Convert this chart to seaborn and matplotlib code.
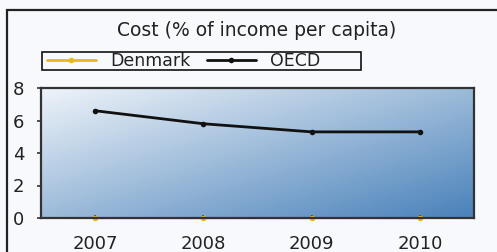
import numpy as np
import pandas as pd
import matplotlib
matplotlib.use("Agg")
import matplotlib.pyplot as plt
import seaborn as sns
from matplotlib.colors import LinearSegmentedColormap
from matplotlib.patches import Rectangle

# data
years = [2007, 2008, 2009, 2010]
denmark = [0, 0, 0, 0]
oecd = [6.6, 5.8, 5.3, 5.3]
y_ticks = [0, 2, 4, 6, 8]

df = pd.DataFrame({"year": years * 2,
                   "value": denmark + oecd,
                   "series": ["Denmark"] * 4 + ["OECD"] * 4})

sns.set_style("white")
plt.rcParams['font.family'] = ['DejaVu Sans']

W, H = 497, 252
fig = plt.figure(figsize=(W / 100, H / 100), dpi=100, facecolor="#f7f9fc")

# plot area in pixels: left 41, right 474, top 88, bottom 218
ax = fig.add_axes([41 / W, 1 - 218 / H, (474 - 41) / W, (218 - 88) / H])
ax.set_facecolor("none")

# diagonal gradient background, light top-left to blue bottom-right
cmap = LinearSegmentedColormap.from_list("bg", ["#eef3f9", "#4a82ba"])
gx, gy = np.meshgrid(np.linspace(0, 1, 200), np.linspace(0, 1, 100))
grad = (gx + (1 - gy)) / 2
ax.imshow(grad, cmap=cmap, extent=[2006.5, 2010.5, 0, 8], aspect="auto",
          origin="lower", zorder=0, vmin=0, vmax=1)

sns.lineplot(data=df, x="year", y="value", hue="series",
             palette={"Denmark": "#f2b320", "OECD": "#111111"},
             marker="o", markersize=4, markeredgewidth=0, linewidth=2.0,
             ax=ax, zorder=3, clip_on=False)
# Denmark sits on the axis line, mostly hidden by it
dk_line = ax.lines[0]
dk_line.set_zorder(1)
dk_line.set_linewidth(1.0)

ax.set_xlim(2006.5, 2010.5)
ax.set_ylim(0, 8)
ax.set_xticks(years)
ax.set_yticks(y_ticks)
ax.set_xlabel("")
ax.set_ylabel("")
for s in ax.spines.values():
    s.set_color("#333333")
    s.set_linewidth(1.6)
    s.set_zorder(2)
ax.tick_params(axis="y", direction="out", length=3, width=1.2, color="#333333",
               pad=9, labelsize=13, labelcolor="#222222")
ax.tick_params(axis="x", direction="inout", length=5, width=1.2, color="#333333",
               pad=10, labelsize=13, labelcolor="#222222")
ax.tick_params(left=True, bottom=True)

leg = ax.legend(loc="center left", ncol=2, frameon=False,
                bbox_to_anchor=(47 / W, 1 - 61 / H), bbox_transform=fig.transFigure,
                fontsize=12.5, handlelength=2.8, columnspacing=0.95,
                borderpad=0, handletextpad=0.85, borderaxespad=0)
for t in leg.get_texts():
    t.set_color("#222222")
fig.patches.append(Rectangle((42 / W, 1 - 70 / H), (361 - 42) / W, 18 / H,
                             transform=fig.transFigure, fill=False,
                             edgecolor="#111111", linewidth=1.2))

fig.text(257 / W, 1 - 31 / H, "Cost (% of income per capita)", ha="center",
         va="center", fontsize=13.5, color="#222222")

# outer frame
fig.patches.append(Rectangle((7 / W, -0.05), 1.0, 1 - 10 / H + 0.05,
                             transform=fig.transFigure, fill=False,
                             edgecolor="#222222", linewidth=1.6))

fig.savefig("out.png", dpi=100, facecolor=fig.get_facecolor())
